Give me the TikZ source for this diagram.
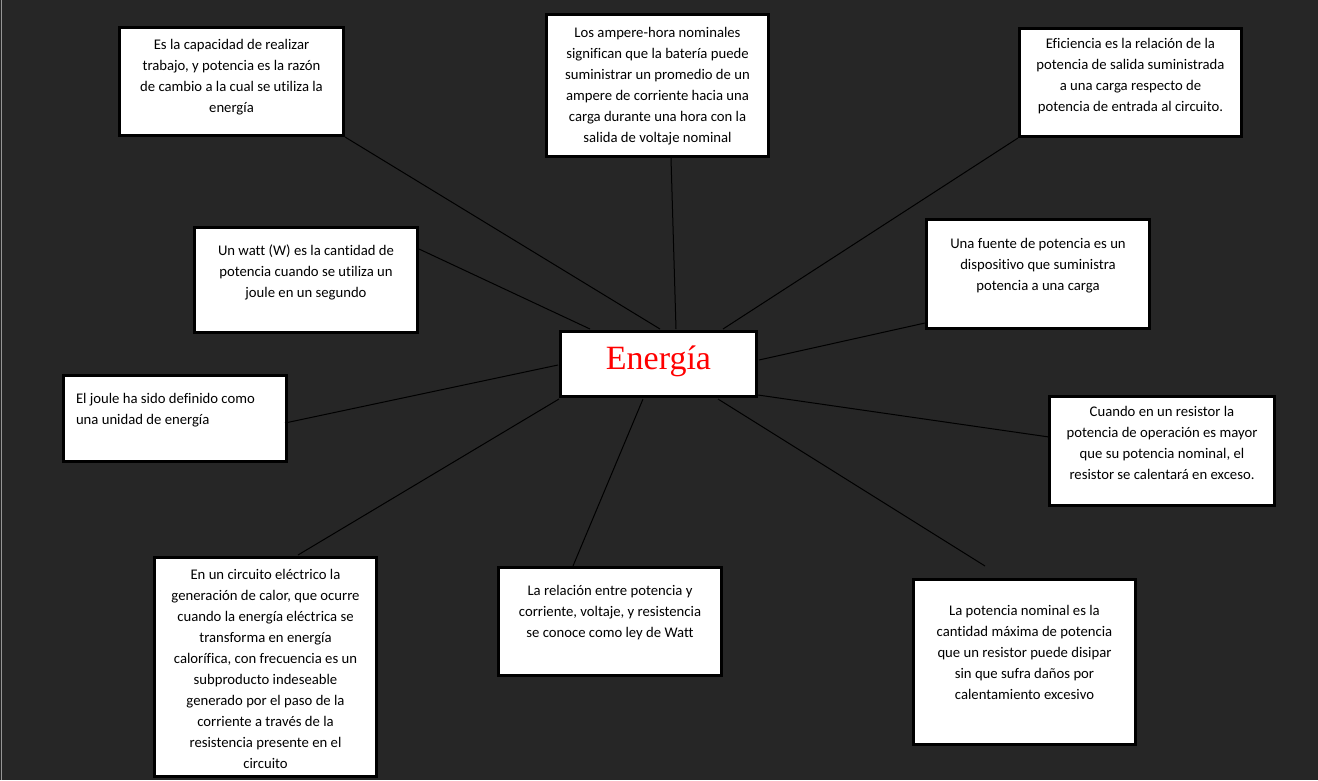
\documentclass[tikz,border=0pt]{standalone}
\usepackage{fontspec}
\setmainfont{Carlito}[Ligatures=NoCommon]
\newfontfamily\timesf{Liberation Serif}
\usetikzlibrary{calc}
\definecolor{bgdark}{RGB}{38,38,38}
\definecolor{edgegrey}{RGB}{150,150,150}
\definecolor{titlered}{RGB}{255,0,0}
\tikzset{
  box/.style={draw=black, fill=white, line width=3pt, inner sep=0pt, rectangle},
  txt/.style={inner sep=0pt, outer sep=0pt, text=black, font=\fontsize{14.7}{21}\selectfont},
  link/.style={draw=black, line width=1pt}
}
\newcommand{\cbox}[1]{\parbox[t]{222pt}{\centering #1}}
\begin{document}
\begin{tikzpicture}[x=1pt, y=-1pt]
\fill[bgdark] (0,0) rectangle (1318,780);
\useasboundingbox (0,0) rectangle (1318,780);
\draw[edgegrey, line width=1pt] (1.5,0) -- (1.5,780);

% boxes
\node[box, minimum width=224pt, minimum height=108pt] (b1) at (231.5,81.5) {};
\node[box, minimum width=222pt, minimum height=142pt] (b2) at (657.5,85.5) {};
\node[box, minimum width=222pt, minimum height=108pt] (b3) at (1130.5,82.5) {};
\node[box, minimum width=223pt, minimum height=105pt] (b4) at (306,280) {};
\node[box, minimum width=223pt, minimum height=109pt] (b5) at (1038,274) {};
\node[box, minimum width=196pt, minimum height=65pt] (e) at (658.5,364) {};
\node[box, minimum width=223pt, minimum height=86pt] (b7) at (175,418.5) {};
\node[box, minimum width=225pt, minimum height=109pt] (b8) at (1162,451) {};
\node[box, minimum width=222pt, minimum height=219pt] (b9) at (265.5,667) {};
\node[box, minimum width=223pt, minimum height=108pt] (b10) at (610,621.5) {};
\node[box, minimum width=222pt, minimum height=165pt] (b11) at (1024.5,662) {};

% texts
\node[txt, anchor=base] (t1) at (231.5,49) {\cbox{Es la capacidad de realizar\\ trabajo, y potencia es la razón\\ de cambio a la cual se utiliza la\\ energía}};
\node[txt, anchor=base] (t2) at (657.5,37) {\cbox{Los ampere-hora nominales\\ significan que la batería puede\\ suministrar un promedio de un\\ ampere de corriente hacia una\\ carga durante una hora con la\\ salida de voltaje nominal}};
\node[txt, anchor=base] (t3) at (1130.5,48) {\cbox{Eficiencia es la relación de la\\ potencia de salida suministrada\\ a una carga respecto de\\ potencia de entrada al circuito.}};
\node[txt, anchor=base] (t4) at (306,255) {\cbox{Un watt (W) es la cantidad de\\ potencia cuando se utiliza un\\ joule en un segundo}};
\node[txt, anchor=base] (t5) at (1038,248) {\cbox{Una fuente de potencia es un\\ dispositivo que suministra\\ potencia a una carga}};
\node[txt, anchor=base, text=titlered, font=\timesf\fontsize{34}{40}\selectfont] (te) at (658.5,369) {Energía};
\node[txt, anchor=base west] (t7) at (76,403) {\parbox[t]{205pt}{\raggedright El joule ha sido definido como\\ una unidad de energía}};
\node[txt, anchor=base] (t8) at (1162,416) {\cbox{Cuando en un resistor la\\ potencia de operación es mayor\\ que su potencia nominal, el\\ resistor se calentará en exceso.}};
\node[txt, anchor=base] (t9) at (265.5,579) {\cbox{En un circuito eléctrico la\\ generación de calor, que ocurre\\ cuando la energía eléctrica se\\ transforma en energía\\ calorífica, con frecuencia es un\\ subproducto indeseable\\ generado por el paso de la\\ corriente a través de la\\ resistencia presente en el\\ circuito}};
\node[txt, anchor=base] (t10) at (610,595) {\cbox{La relación entre potencia y\\ corriente, voltaje, y resistencia\\ se conoce como ley de Watt}};
\node[txt, anchor=base] (t11) at (1024.5,615) {\cbox{La potencia nominal es la\\ cantidad máxima de potencia\\ que un resistor puede disipar\\ sin que sufra daños por\\ calentamiento excesivo}};

% connectors
\draw[link] (b1.south east) -- ($(e.north)+(1.5,-1)$);
\draw[link] ($(b2.south)+(13.5,0)$) -- ($(e.north)+(17.5,-1)$);
\draw[link] (b3.south west) -- ($(e.north)+(64.5,-1)$);
\draw[link] ($(b4.north east)+(0,23)$) -- ($(e.north)+(-68.5,-1)$);
\draw[link] ($(b5.south west)+(0,-7)$) -- ($(e.east)+(1,-4)$);
\draw[link] ($(e.west)+(-1,1)$) -- ($(b7.east)+(-3,4.5)$);
\draw[link] ($(e.south east)+(0,-3)$) -- ($(b8.west)+(1,-14)$);
\draw[link] ($(e.south west)+(0,1)$) -- ($(b9.north)+(32.5,-1)$);
\draw[link] ($(e.south)+(-15.5,1)$) -- ($(b10.north)+(-37,0)$);
\draw[link] ($(e.south)+(59.5,1)$) -- ($(b11.north)+(-39.5,-12)$);
\end{tikzpicture}
\end{document}
